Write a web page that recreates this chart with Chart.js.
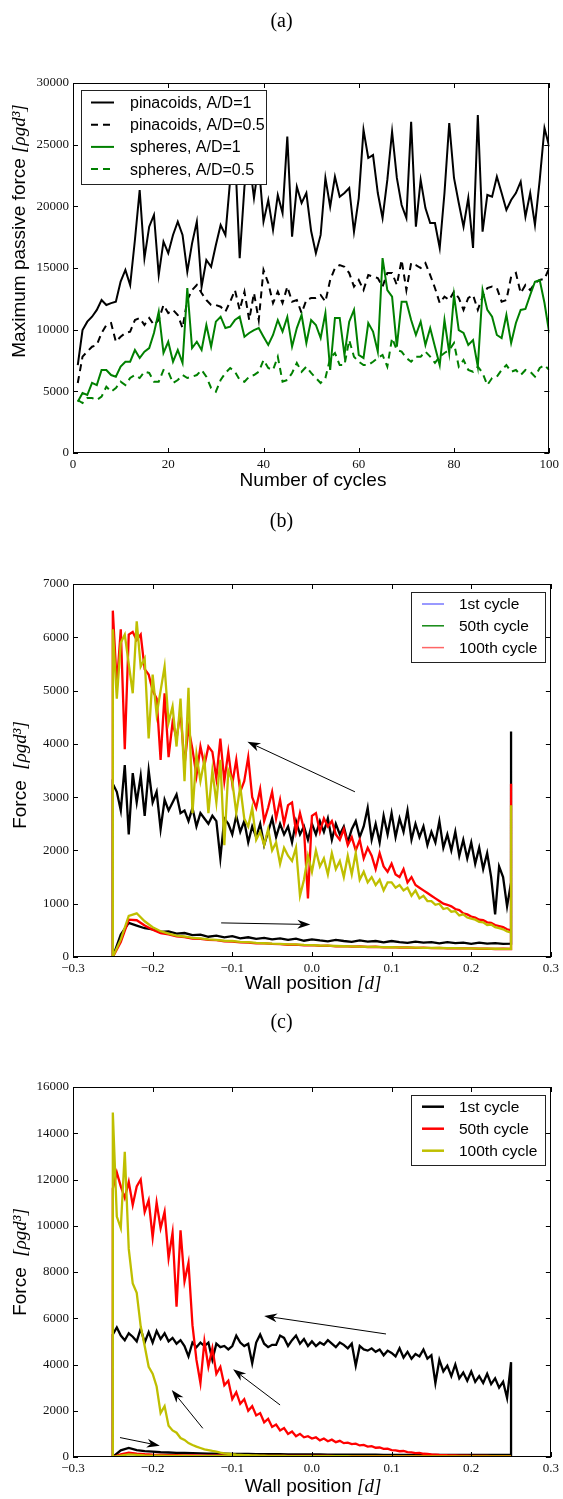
<!DOCTYPE html>
<html>
<head>
<meta charset="utf-8">
<title>Passive force over cycles</title>
<script src="https://cdn.jsdelivr.net/npm/chart.js@4.4.1/dist/chart.umd.min.js"></script>
<style>
  body { margin: 0; background: #fff; }
  #page { position: relative; width: 563px; height: 1499px; overflow: hidden; }
  canvas { position: absolute; left: 0; }
  .tag { position: absolute; left: 0; width: 563px; text-align: center;
         font: 20px "Liberation Serif", serif; line-height: 24px; color: #000; }
</style>
</head>
<body>
<div id="page">
  <canvas id="chart-a" width="563" height="500" style="top:0"></canvas>
  <canvas id="chart-b" width="563" height="500" style="top:500px"></canvas>
  <canvas id="chart-c" width="563" height="499" style="top:1000px"></canvas>
  <div class="tag" style="top:8px">(a)</div>
  <div class="tag" style="top:508px">(b)</div>
  <div class="tag" style="top:1009px">(c)</div>
</div>
<script>
const SANS = '"Liberation Sans", Arial, sans-serif';
const SERIF = '"Liberation Serif", serif';

// ---- panel (a): maximum passive force per cycle ----
const cycleTicks = [0, 20, 40, 60, 80, 100];
const forceTicksA = [0, 5000, 10000, 15000, 20000, 25000, 30000];
const seriesNamesA = ['pinacoids, A/D=1', 'pinacoids, A/D=0.5', 'spheres, A/D=1', 'spheres, A/D=0.5'];

const pinacoidsAD1 = [
  7130, 9970, 10650, 11050, 11600, 12400, 12000, 12150, 12270, 13900,
  14840, 13620, 17270, 21320, 15800, 18350, 19300, 14430, 17130, 16200,
  17680, 18760, 17680, 14700, 17000, 18760, 13490, 15650, 15100, 16860,
  18490, 17680, 22140, 24500, 15800, 21600, 23800, 20670, 23500, 18760,
  20510, 18080, 20920, 19460, 25650, 17540, 21590, 20270, 21080, 18000,
  16200, 17680, 22300, 19970, 22400, 20780, 21080, 21490, 17940, 20670,
  26190, 23920, 24160, 21080, 19050, 22140, 26050, 22300, 20110, 19050,
  26860, 18350, 22140, 19860, 18650, 18650, 16620, 21080, 26750, 22300,
  20270, 18350, 20670, 16620, 27400, 17940, 20920, 20780, 22400, 21080,
  19700, 20510, 21080, 22000, 19160, 21080, 18490, 22140, 26350, 24840
];
const pinacoidsAD05 = [
  5680, 7810, 8220, 8620, 8760, 9730, 10380, 10540, 9020, 9430,
  9730, 9840, 10780, 10950, 10380, 10950, 10380, 10780, 12000, 11350,
  11600, 11190, 10130, 12400, 13210, 13620, 12970, 12400, 12000, 12000,
  11860, 11460, 12270, 13210, 11600, 13080, 10780, 12970, 10780, 14840,
  13780, 12160, 13080, 12160, 13490, 12270, 12400, 11350, 12400, 12570,
  12570, 12810, 12270, 14030, 15000, 15240, 15100, 14590, 13490, 14030,
  13210, 14430, 14300, 14190, 13490, 14590, 14590, 13620, 15650, 13210,
  15400, 15240, 15000, 15400, 14430, 13380, 12160, 12680, 12400, 13080,
  12570, 11600, 12570, 12810, 11600, 12680, 13380, 13490, 13380, 12270,
  12400, 14300, 14590, 12970, 13620, 13210, 13780, 14030, 14110, 15000
];
const spheresAD1 = [
  4160, 4860, 4700, 5680, 5510, 6730, 6730, 6320, 6190, 7000,
  7400, 7400, 8350, 7700, 8220, 8510, 9730, 11460, 8110, 9020,
  7400, 8350, 7300, 13380, 8510, 9020, 8350, 10380, 8620, 10650,
  11050, 10130, 10240, 10780, 11050, 9430, 9730, 9970, 10130, 9430,
  8760, 9570, 10780, 9840, 11030, 8620, 10130, 11190, 8920, 10780,
  10380, 9320, 11350, 6730, 10950, 10950, 7950, 10650, 11600, 7950,
  7700, 10540, 9840, 8220, 15800, 13210, 12680, 8620, 12270, 12270,
  10780, 9570, 10650, 8760, 10130, 8620, 7130, 10780, 8110, 12810,
  9970, 9730, 8760, 9160, 7000, 13210, 11600, 11050, 9570, 9320,
  11190, 8920, 10540, 11600, 11680, 12810, 13890, 14030, 12160, 9730
];
const spheresAD05 = [
  4300, 4050, 4460, 4460, 4300, 4570, 5380, 4970, 5270, 5780,
  5510, 6080, 6320, 6080, 6590, 6490, 5780, 5780, 6730, 6590,
  5680, 5920, 6320, 6080, 6190, 6320, 6730, 6190, 5270, 4970,
  5920, 6490, 6890, 6590, 5920, 5780, 6190, 6320, 6590, 7540,
  6890, 6730, 7810, 5780, 5920, 6490, 7300, 6590, 7000, 6490,
  6080, 5680, 6080, 7700, 8110, 7130, 7130, 9160, 7810, 7400,
  7130, 7130, 7400, 7700, 7950, 7000, 9320, 8350, 8220, 7700,
  7400, 7810, 7810, 8220, 7810, 7300, 7810, 8110, 8350, 8920,
  7000, 7540, 6730, 6590, 7000, 6490, 5510, 6080, 6190, 6730,
  7130, 6590, 6730, 6320, 6730, 6590, 6190, 6890, 7130, 6730
];

// ---- panels (b) and (c): force vs wall position, one loop per cycle ----
const wallTicks = [-0.3, -0.2, -0.1, 0, 0.1, 0.2, 0.3];
const forceTicksB = [0, 1000, 2000, 3000, 4000, 5000, 6000, 7000];
const forceTicksC = [0, 2000, 4000, 6000, 8000, 10000, 12000, 14000, 16000];
const cycleNames = ['1st cycle', '50th cycle', '100th cycle'];
// wall moving right (low branch, every 0.01) and back left (upper branch, every 0.005)
const lowPos = Array.from({ length: 51 }, (_, i) => -0.25 + i * 0.01);
const upPos = Array.from({ length: 101 }, (_, i) => -0.25 + i * 0.005);

// (b) A/D = 1
const blackLowB = [
  0, 420, 640, 590, 540, 520, 470, 480, 440, 450,
  410, 420, 380, 400, 370, 390, 350, 370, 340, 360,
  330, 350, 320, 345, 305, 330, 310, 295, 320, 300,
  285, 310, 290, 300, 275, 300, 280, 265, 290, 270,
  280, 255, 280, 260, 270, 245, 270, 250, 260, 245,
  250
];
const redLowB = [
  0, 280, 700, 690, 590, 510, 450, 425, 385, 375,
  345, 340, 320, 315, 295, 290, 275, 270, 255, 255,
  245, 240, 230, 232, 220, 222, 210, 212, 200, 205,
  195, 198, 188, 192, 182, 185, 178, 180, 172, 175,
  168, 170, 162, 166, 160, 162, 155, 158, 150, 155,
  150
];
const yelLowB = [
  0, 330, 770, 820, 670, 560, 485, 440, 400, 385,
  360, 350, 330, 322, 305, 300, 285, 278, 265, 258,
  250, 246, 238, 236, 228, 224, 216, 212, 206, 202,
  198, 196, 190, 189, 185, 183, 180, 179, 175, 173,
  170, 169, 166, 165, 162, 161, 158, 157, 155, 154,
  152
];
const blackUpB = [
  3250, 3100, 2750, 3600, 2300, 3450, 2900, 3400, 2650, 3500,
  2900, 3100, 2400, 2950, 2750, 2900, 3050, 2700, 2750, 2550,
  2800, 2450, 2700, 2600, 2500, 2650, 2550, 1850, 2600, 2500,
  2300, 2650, 2350, 2550, 2150, 2450, 2250, 2500, 2100, 2350,
  2600, 2250, 2500, 2300, 2450, 2150, 2550, 2300, 2450, 2200,
  2500, 2300, 2550, 2350, 2600, 2200, 2500, 2300, 2450, 2150,
  2400, 2550, 2250, 2450, 2800, 2200, 2500, 2150, 2650, 2300,
  2700, 2250, 2600, 2350, 2750, 2200, 2500, 2250, 2450, 2100,
  2350, 2150, 2550, 2050, 2300, 2000, 2350, 1900, 2200, 1850,
  2150, 1750, 2050, 1650, 1950, 1500, 800, 1700, 1500, 950,
  1400
];
const redUpB = [
  6500, 5100, 6150, 3900, 6050, 6100, 5950, 6050, 5400, 5300,
  5000, 4850, 3700, 4950, 3750, 4400, 4100, 4600, 3600, 4300,
  3900, 3400, 3950, 3600, 3950, 3850, 3350, 4100, 3300, 3850,
  3250, 3700, 3100, 3300, 3750, 3000, 2800, 3150, 2550, 2800,
  3100, 2600, 2950, 2500, 2850, 2900, 2350, 2700, 2400, 1100,
  2650, 2700, 2350, 2600, 2450, 2550, 2300, 2200, 2400, 2100,
  2250, 2000, 2200, 1850, 2050, 1900, 1650, 1950, 1700, 1600,
  1750, 1550, 1500, 1650, 1400, 1500, 1350, 1300, 1250, 1200,
  1150, 1100, 1050, 1000, 980, 950, 900, 880, 820, 800,
  760, 740, 700, 690, 650, 640, 600, 580, 560, 520,
  500
];
const yelUpB = [
  6150, 4850, 5900, 6050, 5500, 4950, 6300, 5450, 5600, 4100,
  5300, 4550, 5000, 5450, 4400, 4700, 3950, 4850, 3300, 5050,
  2700, 3800, 3300, 3700, 2700, 3500, 2900, 3700, 2100, 3500,
  3300, 2700, 3200, 2600, 2450, 2800, 2200, 2350, 2100, 2400,
  2000, 2150, 1750, 2050, 1900, 1800, 2050, 1150, 1450, 1900,
  1600, 2000, 1700, 1850, 1550, 1950, 1650, 1800, 1500, 1900,
  1550, 1950, 1450, 1600, 1400, 1500, 1350, 1450, 1250, 1400,
  1400, 1300, 1350, 1250, 1300, 1150, 1250, 1100, 1150, 1050,
  1050, 980, 1000, 900, 920, 850, 860, 780, 800, 740,
  720, 700, 660, 650, 600, 610, 560, 540, 520, 480,
  460
];
const spikeB = [4230, 3250, 2850];

// (c) A/D = 0.5
const blackLowC = [
  0, 290, 390, 300, 255, 230, 205, 195, 180, 172,
  165, 158, 150, 148, 142, 138, 132, 130, 126, 124,
  120, 118, 115, 114, 110, 110, 108, 106, 104, 103,
  100, 100, 98, 97, 96, 95, 94, 94, 92, 92,
  91, 90, 90, 90, 89, 89, 88, 88, 88, 88,
  88
];
const redLowC = [
  0, 110, 190, 150, 120, 100, 90, 82, 76, 70,
  66, 62, 60, 57, 55, 53, 52, 50, 49, 48,
  47, 46, 45, 45, 44, 44, 43, 43, 42, 42,
  42, 41, 41, 41, 40, 40, 40, 40, 40, 40,
  40, 40, 40, 40, 40, 40, 40, 40, 40, 40,
  40
];
const yelLowC = [
  0, 60, 110, 90, 72, 62, 55, 50, 46, 43,
  40, 38, 37, 36, 35, 34, 33, 33, 32, 32,
  31, 31, 31, 30, 30, 30, 30, 30, 30, 30,
  30, 30, 30, 30, 30, 30, 30, 30, 30, 30,
  30, 30, 30, 30, 30, 30, 30, 30, 30, 30,
  30
];
const blackUpC = [
  5300, 5600, 5250, 5050, 5350, 5200, 5000, 5550, 4950, 5400,
  4950, 5450, 5100, 5350, 5000, 5150, 4900, 5050, 4800, 4350,
  4950, 4750, 4950, 4800, 4950, 4200, 4900, 4750, 4800, 4650,
  4800, 5250, 4950, 4800, 4900, 4050, 4950, 5300, 4900, 4750,
  4850, 4850, 5250, 5150, 4800, 5050, 5250, 4900, 5100, 4800,
  5000, 4800, 4950, 4850, 5050, 4900, 4750, 4950, 4850, 4700,
  4900, 3950, 4800, 4650, 4600, 4700, 4550, 4650, 4400, 4600,
  4500, 4350, 4700, 4300, 4550, 4250, 4450, 4350, 4650, 4250,
  4400, 3200, 4200, 3700, 3950, 3500, 4000, 3400, 3650, 3300,
  3700, 3250, 3500, 3200, 3600, 3150, 3400, 3000, 3250, 2550,
  4100
];
const redUpC = [
  11600, 12300, 11700, 11200, 11900, 10900, 11700, 12000, 10600, 11100,
  9500, 11000, 9900, 10600, 8600, 9700, 6500, 9800, 7600, 8400,
  5700, 4200, 3200, 5000, 3900, 4700, 3600, 3900, 3100, 3300,
  2500, 2800, 2300, 2500, 2000, 2200, 1800, 1900, 1500, 1650,
  1300, 1400, 1150, 1250, 1000, 1100, 900, 1000, 850, 900,
  800, 850, 720, 800, 680, 750, 640, 700, 600, 620,
  560, 580, 500, 520, 450, 470, 400, 410, 350, 360,
  300, 290, 250, 260, 210, 200, 170, 180, 140, 130,
  110, 100, 90, 85, 75, 70, 65, 60, 55, 55,
  50, 50, 45, 45, 45, 40, 40, 40, 40, 40,
  40
];
const yelUpC = [
  14900, 10400, 9900, 13200, 9000, 7500, 7100, 5650, 4800, 3900,
  3600, 3050, 1900, 2200, 1350, 1150, 1050, 820, 740, 600,
  520, 450, 390, 330, 300, 260, 230, 190, 160, 140,
  120, 105, 95, 85, 78, 72, 66, 60, 56, 52,
  50, 48, 46, 44, 42, 40, 40, 38, 38, 36,
  36, 35, 35, 34, 34, 33, 33, 32, 32, 32,
  31, 31, 31, 30, 30, 30, 30, 30, 30, 30,
  30, 30, 30, 30, 30, 30, 30, 30, 30, 30,
  30, 30, 30, 30, 30, 30, 30, 30, 30, 30,
  30, 30, 30, 30, 30, 30, 30, 30, 30, 30,
  30
];
const spikeC = [2050, 40, 30];

// arrows in data units [wall position, force]
const arrowsB = [
  { from: [0.054, 3100], to: [-0.081, 4040] },
  { from: [-0.114, 640], to: [-0.002, 610] }
];
const arrowsC = [
  { from: [0.093, 5320], to: [-0.06, 6100] },
  { from: [-0.04, 2250], to: [-0.099, 3790] },
  { from: [-0.137, 1240], to: [-0.176, 2900] },
  { from: [-0.241, 840], to: [-0.191, 490] }
];

// ---- helpers ----
function cyclePoints(values) {
  return values.map((v, i) => ({ x: i + 1, y: v }));
}

// lower branch left->right, jump at the right wall, upper branch back, drop to 0
function loopPoints(lower, upper, spike) {
  const pts = lower.map((v, i) => ({ x: lowPos[i], y: v }));
  pts.push({ x: upPos[upPos.length - 1], y: spike });
  for (let i = upper.length - 1; i >= 0; i--) pts.push({ x: upPos[i], y: upper[i] });
  pts.push({ x: upPos[0], y: 0 });
  return pts;
}

function fmtWall(v) {
  const s = Math.abs(v).toFixed(1);
  return v < -1e-9 ? '\u2212' + s : s;
}

function axis(values, format, fit) {
  return {
    type: 'linear',
    min: values[0],
    max: values[values.length - 1],
    afterBuildTicks: s => { s.ticks = values.map(v => ({ value: v })); },
    ticks: {
      callback: format,
      font: { family: SERIF, size: 13 },
      color: '#111',
      padding: 4,
      maxRotation: 0,
      autoSkip: false
    },
    grid: { display: false, drawTicks: false },
    border: { display: false },
    afterFit: fit
  };
}

const frameTicks = {
  id: 'frameTicks',
  afterDatasetsDraw(chart) {
    const { ctx, chartArea: a, scales: { x, y } } = chart;
    ctx.save();
    ctx.strokeStyle = '#000';
    ctx.lineWidth = 1;
    ctx.strokeRect(Math.round(a.left) + 0.5, Math.round(a.top) + 0.5,
                   Math.round(a.width) - 1, Math.round(a.height) - 1);
    ctx.beginPath();
    x.ticks.forEach(t => {
      const px = Math.round(x.getPixelForValue(t.value)) + 0.5;
      ctx.moveTo(px, a.bottom); ctx.lineTo(px, a.bottom - 5);
      ctx.moveTo(px, a.top); ctx.lineTo(px, a.top + 5);
    });
    y.ticks.forEach(t => {
      const py = Math.round(y.getPixelForValue(t.value)) + 0.5;
      ctx.moveTo(a.left, py); ctx.lineTo(a.left + 5, py);
      ctx.moveTo(a.right, py); ctx.lineTo(a.right - 5, py);
    });
    ctx.stroke();
    ctx.restore();
  }
};

function arrowMarks(items) {
  return {
    id: 'arrowMarks',
    afterDatasetsDraw(chart) {
      const { ctx, scales: { x, y } } = chart;
      ctx.save();
      ctx.strokeStyle = '#000';
      ctx.fillStyle = '#000';
      ctx.lineWidth = 1;
      items.forEach(a => {
        const x0 = x.getPixelForValue(a.from[0]), y0 = y.getPixelForValue(a.from[1]);
        const x1 = x.getPixelForValue(a.to[0]), y1 = y.getPixelForValue(a.to[1]);
        const ang = Math.atan2(y1 - y0, x1 - x0);
        const c = Math.cos(ang), s = Math.sin(ang);
        const len = 13, half = 4.5;
        ctx.beginPath();
        ctx.moveTo(x0, y0);
        ctx.lineTo(x1 - len * 0.7 * c, y1 - len * 0.7 * s);
        ctx.stroke();
        ctx.beginPath();
        ctx.moveTo(x1, y1);
        ctx.lineTo(x1 - len * c - half * s, y1 - len * s + half * c);
        ctx.lineTo(x1 - len * 0.7 * c, y1 - len * 0.7 * s);
        ctx.lineTo(x1 - len * c + half * s, y1 - len * s - half * c);
        ctx.closePath();
        ctx.fill();
      });
      ctx.restore();
    }
  };
}

function boxLegend(box) {
  return {
    id: 'boxLegend',
    afterDraw(chart) {
      const ctx = chart.ctx;
      ctx.save();
      ctx.fillStyle = '#fff';
      ctx.fillRect(box.left, box.top, box.width, box.height);
      ctx.strokeStyle = '#222';
      ctx.lineWidth = 1;
      ctx.strokeRect(box.left + 0.5, box.top + 0.5, box.width, box.height);
      ctx.font = box.fontSize + 'px ' + SANS;
      ctx.textBaseline = 'middle';
      chart.data.datasets.forEach((ds, i) => {
        const y = box.top + box.firstRow + i * box.rowGap;
        ctx.beginPath();
        ctx.setLineDash(ds.borderDash || []);
        ctx.strokeStyle = box.colors ? box.colors[i] : ds.borderColor;
        ctx.lineWidth = box.lineWidth;
        ctx.moveTo(box.left + box.lineX0, y);
        ctx.lineTo(box.left + box.lineX1, y);
        ctx.stroke();
        ctx.setLineDash([]);
        ctx.fillStyle = '#000';
        ctx.fillText(ds.label, box.left + box.textX, y + 1);
      });
      ctx.restore();
    }
  };
}

// axis captions with a plain part and an italic math part
function axisText(items) {
  return {
    id: 'axisText',
    afterDraw(chart) {
      const ctx = chart.ctx;
      items.forEach(item => {
        ctx.save();
        ctx.translate(item.x, item.y);
        if (item.vertical) ctx.rotate(-Math.PI / 2);
        const widths = item.parts.map(p => { ctx.font = p.font; return ctx.measureText(p.text).width; });
        let x = -widths.reduce((a, b) => a + b, 0) / 2;
        ctx.textBaseline = 'middle';
        ctx.fillStyle = '#000';
        item.parts.forEach((p, i) => { ctx.font = p.font; ctx.fillText(p.text, x, 0); x += widths[i]; });
        ctx.restore();
      });
    }
  };
}

const plainFont = '19px ' + SANS;
const mathFont = 'italic 19px ' + SERIF;

function lineSet(label, data, color, order, width, dash) {
  return {
    label, data, order,
    borderColor: color,
    backgroundColor: color,
    borderWidth: width,
    borderDash: dash || [],
    pointRadius: 0,
    tension: 0,
    fill: false
  };
}

// ---- panel (a) ----
new Chart(document.getElementById('chart-a'), {
  type: 'line',
  data: {
    datasets: [
      lineSet(seriesNamesA[0], cyclePoints(pinacoidsAD1), '#000', 4, 2),
      lineSet(seriesNamesA[1], cyclePoints(pinacoidsAD05), '#000', 3, 2, [7, 5]),
      lineSet(seriesNamesA[2], cyclePoints(spheresAD1), '#008000', 2, 2),
      lineSet(seriesNamesA[3], cyclePoints(spheresAD05), '#008000', 1, 2, [7, 5])
    ]
  },
  options: {
    responsive: false,
    animation: false,
    layout: { padding: { top: 83, right: 10, left: 0, bottom: 0 } },
    plugins: { legend: { display: false }, tooltip: { enabled: false } },
    scales: {
      x: axis(cycleTicks, v => String(v), s => { s.height = 47; }),
      y: axis(forceTicksA, v => String(v), s => { s.width = 73; })
    }
  },
  plugins: [
    frameTicks,
    boxLegend({ left: 81, top: 90, width: 185, height: 94, firstRow: 12.5, rowGap: 22.2,
                lineX0: 10, lineX1: 33, textX: 49, lineWidth: 2, fontSize: 16 }),
    axisText([
      { x: 313, y: 481, parts: [{ text: 'Number of cycles', font: plainFont }] },
      { x: 20, y: 231, vertical: true,
        parts: [{ text: 'Maximum passive force ', font: plainFont }, { text: '[ρgd³]', font: mathFont }] }
    ])
  ]
});

// ---- panels (b) and (c) ----
function wallPanel(id, top, xHeight, yTicks, loops, arrows, legendBox, yLabelY, xLabelY) {
  const colors = ['#000', '#ff0000', '#bfbf00'];
  return new Chart(document.getElementById(id), {
    type: 'line',
    data: {
      datasets: loops.map((pts, i) => lineSet(cycleNames[i], pts, colors[i], 3 - i, 2.3))
    },
    options: {
      responsive: false,
      animation: false,
      layout: { padding: { top: top, right: 10, left: 0, bottom: 0 } },
      plugins: { legend: { display: false }, tooltip: { enabled: false } },
      scales: {
        x: axis(wallTicks, fmtWall, s => { s.height = xHeight; }),
        y: axis(yTicks, v => String(v), s => { s.width = 73; })
      }
    },
    plugins: [
      frameTicks,
      arrowMarks(arrows),
      boxLegend(legendBox),
      axisText([
        { x: 313, y: xLabelY,
          parts: [{ text: 'Wall position ', font: plainFont }, { text: '[d]', font: mathFont }] },
        { x: 21, y: yLabelY, vertical: true,
          parts: [{ text: 'Force  ', font: plainFont }, { text: '[ρgd³]', font: mathFont }] }
      ])
    ]
  });
}

wallPanel('chart-b', 84, 43, forceTicksB,
  [loopPoints(blackLowB, blackUpB, spikeB[0]),
   loopPoints(redLowB, redUpB, spikeB[1]),
   loopPoints(yelLowB, yelUpB, spikeB[2])],
  arrowsB,
  { left: 411, top: 92, width: 134, height: 70, firstRow: 12, rowGap: 21.8,
    lineX0: 11, lineX1: 33, textX: 48, lineWidth: 1.5, fontSize: 15.5,
    colors: ['#7777ff', '#118811', '#ff6666'] },
  275, 484);

wallPanel('chart-c', 87, 42, forceTicksC,
  [loopPoints(blackLowC, blackUpC, spikeC[0]),
   loopPoints(redLowC, redUpC, spikeC[1]),
   loopPoints(yelLowC, yelUpC, spikeC[2])],
  arrowsC,
  { left: 411, top: 95, width: 134, height: 70, firstRow: 11.7, rowGap: 22,
    lineX0: 11, lineX1: 33, textX: 48, lineWidth: 2.5, fontSize: 15.5 },
  262, 487);
</script>
</body>
</html>
